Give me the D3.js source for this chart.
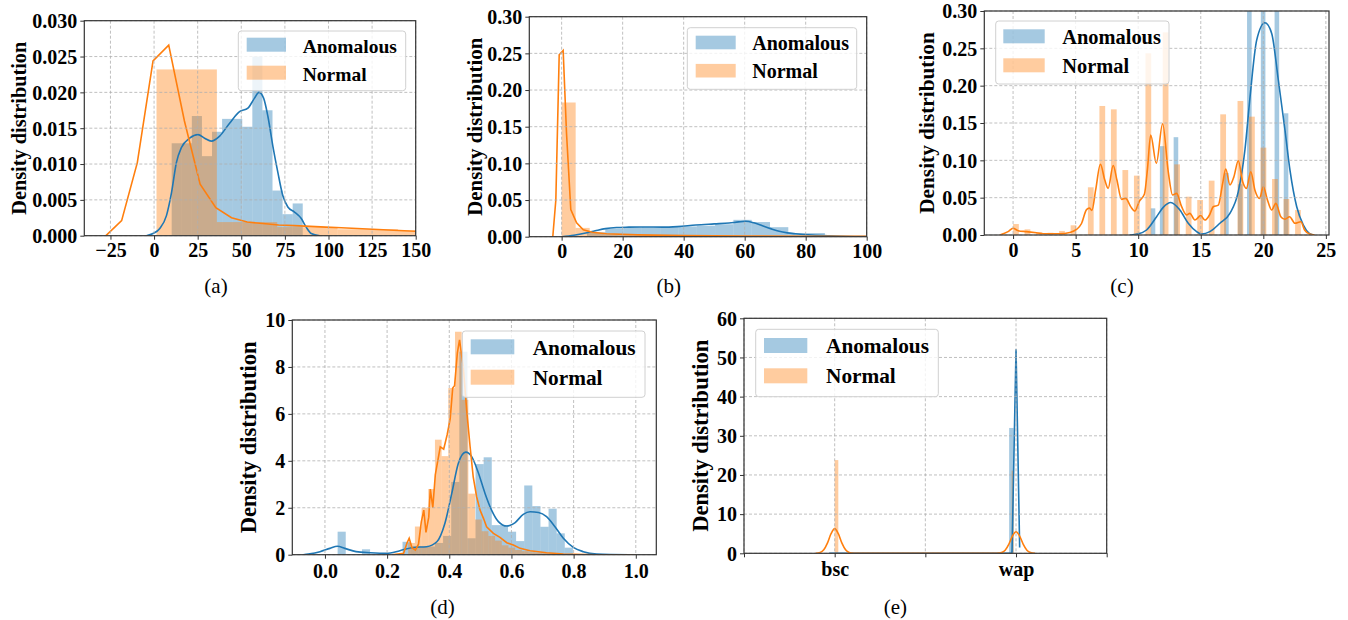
<!DOCTYPE html>
<html>
<head>
<meta charset="utf-8">
<script src="https://cdn.jsdelivr.net/npm/d3@7/dist/d3.min.js"></script>
<style>
  body { margin: 0; background: #fff; }
</style>
</head>
<body>
<svg id="fig" width="1348" height="620"></svg>
<script>
// ---------------- data ----------------
const legendLabels = ["Anomalous", "Normal"];
const captions = ["(a)", "(b)", "(c)", "(d)", "(e)"];

// (a)  histogram bins: [start, width]
const aAnomBins = [10.1, 5.78];
const aAnomDens = [0.0129, 0.0129, 0.0167, 0.0111, 0.0145, 0.0163, 0.0163, 0.0152, 0.0250, 0.0175, 0.0063, 0.0030, 0.0045];
const aNormBins = [1.4, 34.6];
const aNormDens = [0.0232, 0.0019, 0.0012, 0.0009, 0.0007];
const aAnomKdeX = [-4.4, -0.6, 3.3, 7.1, 10, 12.8, 15.7, 20.4, 25.2, 29, 32.8, 37.6, 43.3, 49, 53.8, 57.6, 60.1, 62.8, 65.3, 68.1, 71, 73.8, 76.7, 80.5, 84.4, 87.2, 90.1, 95];
const aAnomKdeY = [0, 0.0003, 0.001, 0.0028, 0.006, 0.0102, 0.0123, 0.0136, 0.0141, 0.0136, 0.0132, 0.0139, 0.0157, 0.0173, 0.0178, 0.0192, 0.0200, 0.0192, 0.0166, 0.0125, 0.0088, 0.0056, 0.0040, 0.0033, 0.0024, 0.0012, 0.0003, 0];
const aNormKdeX = [-27.6, -18.6, -9.6, -0.6, 8.4, 17.4, 26.4, 35.4, 44.4, 53.4, 62.4, 71.4, 80.4, 89.4, 98.4, 107.4, 116.4, 125.4, 134.4, 143.4, 152.4];
const aNormKdeY = [0, 0.0021, 0.0102, 0.0244, 0.0266, 0.0160, 0.0072, 0.0039, 0.0025, 0.0019, 0.0017, 0.0015, 0.0014, 0.0013, 0.0012, 0.0011, 0.0010, 0.0009, 0.0008, 0.0007, 0.0006];
const aXTicks = [-25, 0, 25, 50, 75, 100, 125, 150];
const aYTicks = [0, 0.005, 0.010, 0.015, 0.020, 0.025, 0.030];

// (b)
const bAnomBins = [8.3, 6];
const bAnomDens = [0.006, 0.011, 0.012, 0.013, 0.013, 0.014, 0.015, 0.017, 0.023, 0.020, 0.013, 0.005, 0.005];
const bNormBins = [0, 4.6];
const bNormDens = [0.183, 0.012, 0.005, 0.003, 0.002, 0.0015, 0.0012, 0.001, 0.001, 0.0008];
const bAnomKdeX = [0, 4, 7.9, 11, 14.4, 18, 22, 27, 33, 38, 44, 50, 54.9, 58, 60.3, 63, 65.8, 68.5, 71.3, 74, 76.7, 82.2, 87.6, 93, 100];
const bAnomKdeY = [0, 0.002, 0.005, 0.008, 0.011, 0.0125, 0.013, 0.0133, 0.013, 0.0138, 0.016, 0.0175, 0.0187, 0.0202, 0.021, 0.019, 0.015, 0.011, 0.0073, 0.0052, 0.004, 0.0023, 0.0013, 0.0006, 0.0002];
const bNormKdeX = [-2.9, -1.9, -0.8, 0.5, 1.6, 3.0, 4.9, 7.1, 10, 14.7, 25, 40, 60, 80, 100];
const bNormKdeY = [0, 0.05, 0.248, 0.254, 0.141, 0.037, 0.019, 0.0095, 0.006, 0.004, 0.0025, 0.0015, 0.001, 0.0006, 0.0004];
const bXTicks = [0, 20, 40, 60, 80, 100];
const bYTicks = [0, 0.05, 0.10, 0.15, 0.20, 0.25, 0.30];

// (c)  integer-valued data, bins given as [lo, hi, count]
const cAnomVals = [11, 12, 13, 17, 18, 19, 20, 21, 22];
const cAnomDens = [0.0357, 0.119, 0.131, 0.083, 0.068, 0.62, 0.95, 0.56, 0.163];
const cAnomBins = [11, 22, 30];
const cNormVals = [0, 1, 2, 3, 4, 5, 6, 7, 8, 9, 10, 11, 12, 13, 14, 15, 16, 17, 18, 19, 20, 21, 22, 23];
const cNormDens = [0.0147, 0.0076, 0.0036, 0.003, 0.0054, 0.013, 0.0639, 0.1728, 0.1683, 0.087, 0.0795, 0.2433, 0.2714, 0.0946, 0.0513, 0.0469, 0.0728, 0.1616, 0.1795, 0.1585, 0.117, 0.075, 0.0482, 0.0335];
const cNormBins = [0, 23, 50];
const cAnomKdeX = [9.33, 10.0, 10.67, 11.47, 12.0, 12.6, 13.33, 14.0, 14.67, 15.07, 15.73, 16.53, 17.33, 18.0, 18.53, 18.94, 19.47, 20.13, 20.67, 21.2, 21.73, 22.13, 22.67, 23.2, 23.67, 24.0];
const cAnomKdeY = [0, 0.0015, 0.0067, 0.0245, 0.037, 0.0435, 0.0335, 0.0157, 0.0045, 0.0013, 0.0045, 0.0157, 0.029, 0.058, 0.1138, 0.185, 0.261, 0.2843, 0.270, 0.2076, 0.1406, 0.087, 0.0379, 0.0134, 0.0022, 0];
const cNormKdeX = [-1.06, -0.4, 0, 0.4, 1.07, 1.87, 2.67, 3.73, 4.53, 5.07, 5.47, 5.87, 6.1, 6.3, 6.6, 6.98, 7.33, 7.6, 8.0, 8.3, 8.67, 9.0, 9.4, 9.73, 10.1, 10.5, 10.75, 11.0, 11.45, 11.95, 12.4, 12.75, 13.07, 13.47, 13.87, 14.13, 14.53, 15.0, 15.33, 15.7, 16.0, 16.4, 16.75, 17.0, 17.33, 17.65, 18.0, 18.35, 18.65, 19.0, 19.33, 19.7, 20.0, 20.33, 20.67, 21.0, 21.4, 21.73, 22.1, 22.53, 23.0, 23.3, 23.7, 24.1];
const cNormKdeY = [0, 0.0045, 0.009, 0.0058, 0.0045, 0.003, 0.0016, 0.0016, 0.0033, 0.0074, 0.0154, 0.034, 0.036, 0.033, 0.0603, 0.0947, 0.0736, 0.0625, 0.093, 0.0736, 0.0477, 0.0491, 0.038, 0.0321, 0.0455, 0.055, 0.09, 0.134, 0.096, 0.149, 0.085, 0.0536, 0.0558, 0.0379, 0.0268, 0.029, 0.020, 0.0259, 0.020, 0.0268, 0.0379, 0.040, 0.069, 0.0884, 0.067, 0.078, 0.0995, 0.0714, 0.0625, 0.0848, 0.060, 0.049, 0.0647, 0.0469, 0.0335, 0.0424, 0.0245, 0.021, 0.0245, 0.0157, 0.0178, 0.0067, 0.0013, 0];
const cXTicks = [0, 5, 10, 15, 20, 25];
const cYTicks = [0, 0.05, 0.10, 0.15, 0.20, 0.25, 0.30];

// (d)
const dAnomBins = [0.0408, 0.0261];
const dAnomDens = [0.98, 0, 0, 0.23, 0, 0, 0, 0, 0.55, 0.35, 0.35, 0.35, 0.5, 0.8, 3.1, 8.65, 0.7, 3.86, 4.15, 1.26, 1.26, 0.98, 0.58, 2.95, 2.07, 1.19, 1.96, 0.91, 0.30];
const dNormBins = [0.2679, 0.0215];
const dNormDens = [0.5, 1.2, 2.0, 2.8, 4.9, 4.2, 7.1, 9.5, 6.6, 2.6, 1.5, 1.0, 0.8, 0.6, 0.4, 0.3, 0.2, 0.15, 0.1, 0.08, 0.06, 0.05, 0.04, 0.03, 0.03, 0.02, 0.02, 0.02, 0.01, 0.01, 0.01, 0.01, 0.01, 0.01];
const dAnomKdeX = [-0.07, -0.054, -0.016, 0.016, 0.04, 0.064, 0.10, 0.145, 0.198, 0.241, 0.284, 0.327, 0.36, 0.386, 0.408, 0.429, 0.453, 0.472, 0.494, 0.515, 0.536, 0.558, 0.585, 0.611, 0.638, 0.66, 0.687, 0.713, 0.74, 0.767, 0.799, 0.831, 0.874, 0.98];
const dAnomKdeY = [0, 0.03, 0.13, 0.27, 0.36, 0.27, 0.13, 0.085, 0.057, 0.17, 0.31, 0.34, 0.55, 1.34, 2.61, 3.89, 4.37, 4.18, 3.47, 2.61, 1.9, 1.41, 1.22, 1.36, 1.72, 1.83, 1.80, 1.62, 1.19, 0.70, 0.31, 0.13, 0.03, 0];
const dNormKdeX = [0.216, 0.253, 0.264, 0.271, 0.28, 0.291, 0.301, 0.31, 0.318, 0.325, 0.334, 0.339, 0.347, 0.355, 0.363, 0.371, 0.382, 0.393, 0.403, 0.411, 0.417, 0.426, 0.433, 0.445, 0.456, 0.467, 0.477, 0.488, 0.499, 0.51, 0.52, 0.542, 0.563, 0.585, 0.606, 0.628, 0.66, 0.713, 0.767, 0.874, 1.0];
const dNormKdeY = [0, 0.06, 0.5, 0.7, 0.3, 0.2, 0.45, 1.4, 1.9, 0.95, 1.6, 2.8, 2.0, 3.4, 4.0, 4.6, 4.5, 5.1, 5.8, 7.1, 7.2, 8.6, 9.15, 8.0, 6.16, 4.6, 3.32, 2.47, 1.9, 1.55, 1.19, 0.91, 0.74, 0.51, 0.41, 0.27, 0.17, 0.085, 0.03, 0, 0];
const dXTicks = [0, 0.2, 0.4, 0.6, 0.8, 1.0];
const dYTicks = [0, 2, 4, 6, 8, 10];

// (e)  categorical: bsc = 0, wap = 1
const eCats = ["bsc", "wap"];
const eAnomLo = [0.962], eAnomHi = [0.987], eAnomDens = [32];
const eNormLo = [0.0, 0.976], eNormHi = [0.02, 0.987], eNormDens = [23.8, 21.1];
const eAnomKdeX = [-0.03, 0.975, 0.978, 1.0, 1.02];
const eAnomKdeY = [0, 0, 0.4, 52.1, 1.5];
const eNormKdeX = [-0.105, -0.08, -0.06, -0.04, -0.02, 0, 0.02, 0.04, 0.06, 0.08, 0.105, 0.895, 0.92, 0.94, 0.96, 0.98, 1.0, 1.02, 1.04, 1.06, 1.08, 1.105];
const eNormKdeY = [0, 0.2, 0.9, 2.6, 5.0, 6.3, 5.0, 2.6, 0.9, 0.2, 0, 0, 0.2, 0.8, 2.3, 4.4, 5.5, 4.4, 2.3, 0.8, 0.2, 0];
const eXTicks = [-0.5, 0, 0.5, 1, 1.5];
const eYTicks = [0, 10, 20, 30, 40, 50, 60];

// ---------------- helpers ----------------
const COLORS = ["#1f77b4", "#ff7f0e"];
const SERIF = '"Liberation Serif", "Times New Roman", serif';

function eqBins(spec, dens) {
  return dens.map((d, i) => ({ x0: spec[0] + i * spec[1], x1: spec[0] + (i + 1) * spec[1], y: d }));
}
function valueBins(vals, dens, spec) {
  const [lo, hi, n] = spec, w = (hi - lo) / n;
  return vals.map((v, i) => {
    const k = Math.min(n - 1, Math.floor((v - lo) / w + 1e-9));
    return { x0: lo + k * w, x1: lo + (k + 1) * w, y: dens[i] };
  });
}
function edgeBins(lo, hi, dens) {
  return dens.map((d, i) => ({ x0: lo[i], x1: hi[i], y: d }));
}

const panels = [
  { id: "a", left: 84.3, right: 415.7, top: 20.7, bottom: 235.7, xDomain: [-40, 150], yDomain: [0, 0.03],
    xTicks: aXTicks, xGrid: aXTicks, xFmt: d3.format("d"), yTicks: aYTicks, yFmt: d3.format(".3f"),
    hists: [eqBins(aAnomBins, aAnomDens), eqBins(aNormBins, aNormDens)],
    kdes: [[aAnomKdeX, aAnomKdeY, d3.curveMonotoneX], [aNormKdeX, aNormKdeY, d3.curveLinear]],
    xLab: 21.5, ylX: 18.3, ylFs: 20.3, cap: [216, 293],
    legend: { x0: 238.3, y0: 31, x1: 405.7, y1: 90.7, px0: 246.7, px1: 286, rowY: [44.7, 72.7], ph: 14, tx: 302.7, base: [52.7, 80.7], fs: 19.5 } },
  { id: "b", left: 529.3, right: 866.7, top: 16.7, bottom: 236.7, xDomain: [-10.6, 100], yDomain: [0, 0.3],
    xTicks: bXTicks, xGrid: bXTicks, xFmt: d3.format("d"), yTicks: bYTicks, yFmt: d3.format(".2f"),
    hists: [eqBins(bAnomBins, bAnomDens), eqBins(bNormBins, bNormDens)],
    kdes: [[bAnomKdeX, bAnomKdeY, d3.curveMonotoneX], [bNormKdeX, bNormKdeY, d3.curveLinear]],
    xLab: 21.5, ylX: 474, ylFs: 20.9, cap: [668.7, 293],
    legend: { x0: 687.3, y0: 27.7, x1: 856.7, y1: 89.3, px0: 695.7, px1: 735.7, rowY: [42.5, 70.7], ph: 13.6, tx: 752.3, base: [50, 78.3], fs: 20 } },
  { id: "c", left: 984.3, right: 1329, top: 11, bottom: 235, xDomain: [-2.3, 25.25], yDomain: [0, 0.3],
    xTicks: cXTicks, xGrid: cXTicks, xFmt: d3.format("d"), yTicks: cYTicks, yFmt: d3.format(".2f"),
    hists: [valueBins(cAnomVals, cAnomDens, cAnomBins), valueBins(cNormVals, cNormDens, cNormBins)],
    kdes: [[cAnomKdeX, cAnomKdeY, d3.curveMonotoneX], [cNormKdeX, cNormKdeY, d3.curveMonotoneX]],
    xLab: 21.5, ylX: 926.7, ylFs: 21.3, cap: [1122, 293],
    legend: { x0: 995.7, y0: 21, x1: 1169, y1: 84, px0: 1003.3, px1: 1044.7, rowY: [36.3, 65.3], ph: 14, tx: 1062.3, base: [44, 72.7], fs: 20.4 } },
  { id: "d", left: 292.3, right: 656.3, top: 320, bottom: 554.7, xDomain: [-0.105, 1.066], yDomain: [0, 10],
    xTicks: dXTicks, xGrid: dXTicks, xFmt: d3.format(".1f"), yTicks: dYTicks, yFmt: d3.format("d"),
    hists: [eqBins(dAnomBins, dAnomDens), eqBins(dNormBins, dNormDens)],
    kdes: [[dAnomKdeX, dAnomKdeY, d3.curveMonotoneX], [dNormKdeX, dNormKdeY, d3.curveLinear]],
    xLab: 23.5, ylX: 248.3, ylFs: 22.5, cap: [442.5, 614],
    legend: { x0: 462.3, y0: 331, x1: 645, y1: 397.3, px0: 470.7, px1: 514.3, rowY: [346.8, 377.2], ph: 15, tx: 532.7, base: [355, 385], fs: 21.3 } },
  { id: "e", left: 744, right: 1106.7, top: 318.3, bottom: 553.3, xDomain: [-0.5, 1.5], yDomain: [0, 60],
    xTicks: eXTicks, xGrid: eXTicks, xFmt: v => eCats[v] ?? "", yTicks: eYTicks, yFmt: d3.format("d"),
    hists: [edgeBins(eAnomLo, eAnomHi, eAnomDens), edgeBins(eNormLo, eNormHi, eNormDens)],
    kdes: [[eAnomKdeX, eAnomKdeY, d3.curveLinear], [eNormKdeX, eNormKdeY, d3.curveMonotoneX]],
    xLab: 23, ylX: 700, ylFs: 22.5, cap: [895.3, 614],
    legend: { x0: 755.7, y0: 329.3, x1: 938.3, y1: 396.7, px0: 764, px1: 807.3, rowY: [345.5, 375.8], ph: 15, tx: 826, base: [353.3, 383.3], fs: 21.3 } }
];

// ---------------- drawing ----------------
const svg = d3.select("#fig");
const defs = svg.append("defs");

function drawPanel(p, idx) {
  const g = svg.append("g").attr("class", "panel-" + p.id);
  const x = d3.scaleLinear().domain(p.xDomain).range([p.left, p.right]);
  const y = d3.scaleLinear().domain(p.yDomain).range([p.bottom, p.top]);

  defs.append("clipPath").attr("id", "clip-" + p.id)
    .append("rect")
    .attr("x", p.left).attr("y", p.top)
    .attr("width", p.right - p.left).attr("height", p.bottom - p.top);
  const plot = g.append("g").attr("clip-path", `url(#clip-${p.id})`);

  // bars: anomalous first, normal drawn over it
  p.hists.forEach((hb, i) => {
    plot.append("g").selectAll("rect").data(hb).join("rect")
      .attr("x", d => x(d.x0))
      .attr("width", d => Math.max(0, x(d.x1) - x(d.x0)))
      .attr("y", d => y(d.y))
      .attr("height", d => y(0) - y(d.y))
      .attr("fill", COLORS[i])
      .attr("fill-opacity", 0.4);
  });

  // dashed grid
  const grid = g.append("g")
    .attr("stroke", "#b0b0b0").attr("stroke-width", 0.8).attr("stroke-dasharray", "3,2");
  grid.selectAll(".gx").data(p.xGrid).join("line").attr("class", "gx")
    .attr("x1", d => x(d)).attr("x2", d => x(d)).attr("y1", p.top).attr("y2", p.bottom);
  grid.selectAll(".gy").data(p.yTicks).join("line").attr("class", "gy")
    .attr("y1", d => y(d)).attr("y2", d => y(d)).attr("x1", p.left).attr("x2", p.right);

  // kde lines
  p.kdes.forEach((k, i) => {
    const line = d3.line().x(d => x(d[0])).y(d => y(d[1])).curve(k[2]);
    plot.append("path").datum(d3.zip(k[0], k[1]))
      .attr("d", line)
      .attr("fill", "none")
      .attr("stroke", COLORS[i])
      .attr("stroke-width", 1.6);
  });

  // frame
  g.append("rect")
    .attr("x", p.left).attr("y", p.top)
    .attr("width", p.right - p.left).attr("height", p.bottom - p.top)
    .attr("fill", "none").attr("stroke", "#333").attr("stroke-width", 1.2);

  // axes
  const ax = g.append("g").attr("transform", `translate(0,${p.bottom})`)
    .call(d3.axisBottom(x).tickValues(p.xTicks).tickFormat(p.xFmt).tickSize(4).tickSizeOuter(0));
  ax.select(".domain").remove();
  ax.attr("font-family", SERIF).attr("font-size", 20).attr("font-weight", "bold");
  ax.selectAll("line").attr("stroke", "#333");
  ax.selectAll("text").attr("y", p.xLab).attr("dy", null).attr("fill", "#000");

  const ay = g.append("g").attr("transform", `translate(${p.left},0)`)
    .call(d3.axisLeft(y).tickValues(p.yTicks).tickFormat(p.yFmt).tickSize(4).tickSizeOuter(0));
  ay.select(".domain").remove();
  ay.attr("font-family", SERIF).attr("font-size", 20).attr("font-weight", "bold");
  ay.selectAll("line").attr("stroke", "#333");
  ay.selectAll("text").attr("x", -7).attr("dy", "0.34em").attr("fill", "#000");

  // y label
  g.append("text")
    .attr("transform", `translate(${p.ylX},${(p.top + p.bottom) / 2}) rotate(-90)`)
    .attr("text-anchor", "middle").attr("dy", "0.36em")
    .attr("font-family", SERIF).attr("font-weight", "bold").attr("font-size", p.ylFs)
    .text("Density distribution");

  // legend
  const L = p.legend;
  const lg = g.append("g");
  lg.append("rect")
    .attr("x", L.x0).attr("y", L.y0).attr("width", L.x1 - L.x0).attr("height", L.y1 - L.y0)
    .attr("rx", 3).attr("fill", "#fff").attr("fill-opacity", 0.8)
    .attr("stroke", "#d0d0d0").attr("stroke-width", 1);
  legendLabels.forEach((lab, i) => {
    lg.append("rect")
      .attr("x", L.px0).attr("y", L.rowY[i] - L.ph / 2)
      .attr("width", L.px1 - L.px0).attr("height", L.ph)
      .attr("fill", COLORS[i]).attr("fill-opacity", 0.4);
    lg.append("text")
      .attr("x", L.tx).attr("y", L.base[i])
      .attr("font-family", SERIF).attr("font-weight", "bold").attr("font-size", L.fs)
      .text(lab);
  });

  // caption
  g.append("text")
    .attr("x", p.cap[0]).attr("y", p.cap[1])
    .attr("text-anchor", "middle")
    .attr("font-family", SERIF).attr("font-size", 21)
    .text(captions[idx]);
}

panels.forEach(drawPanel);
</script>
</body>
</html>
